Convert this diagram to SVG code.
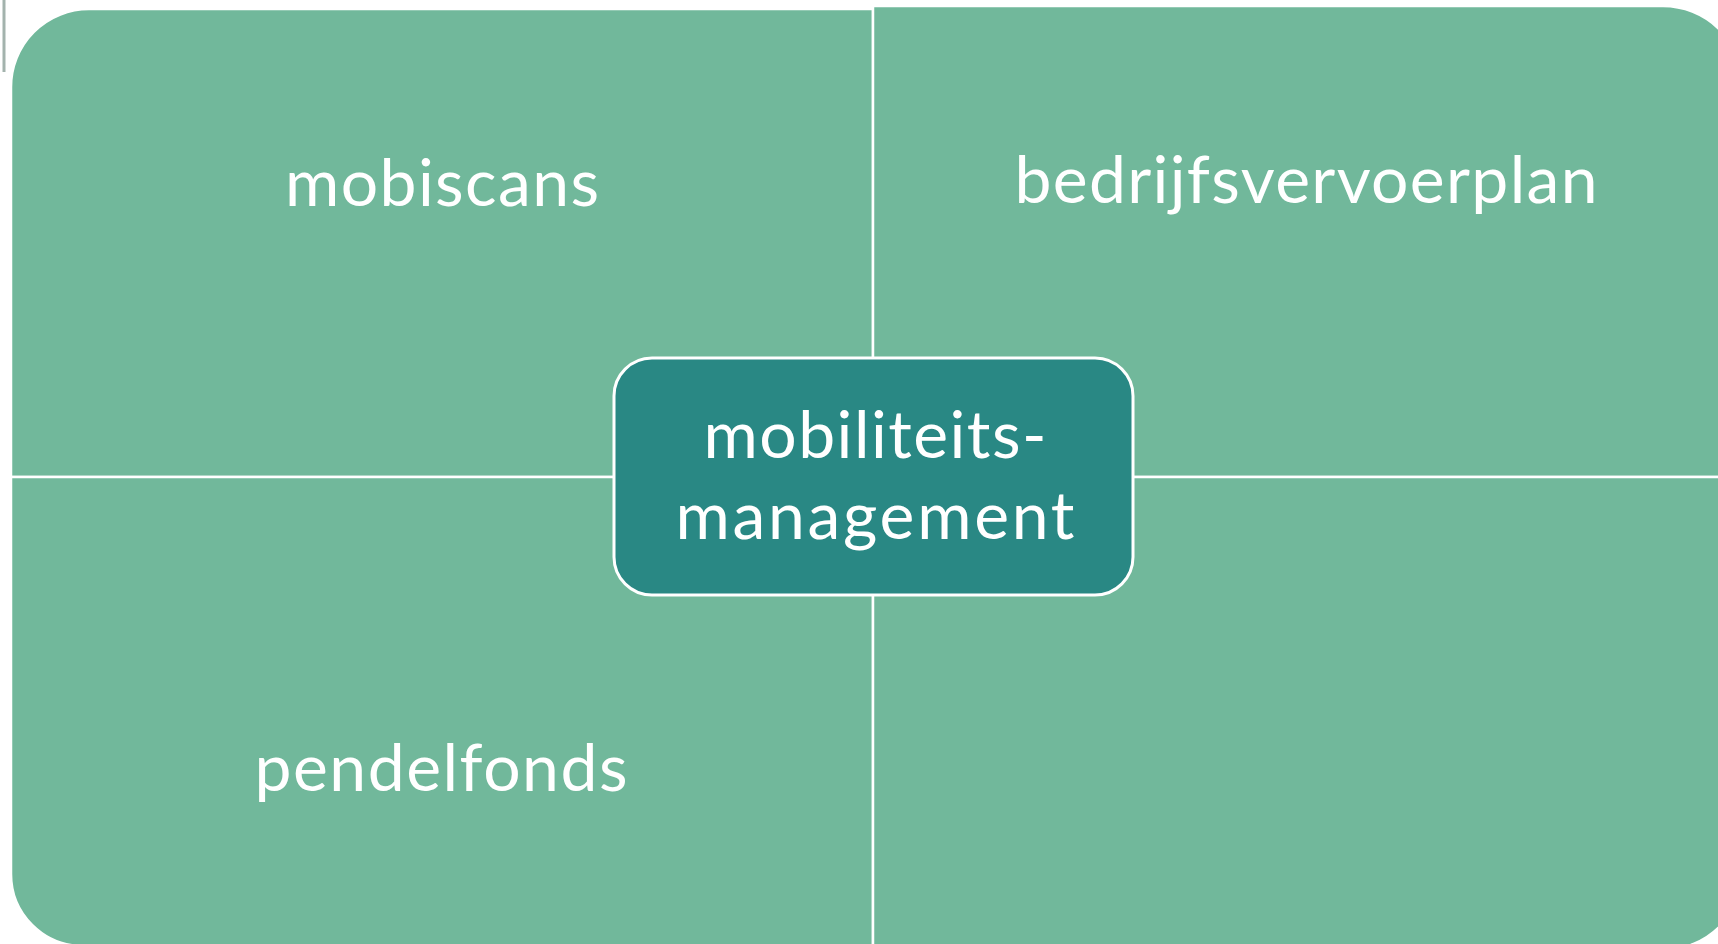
<svg xmlns="http://www.w3.org/2000/svg" width="1718" height="944" viewBox="0 0 1718 944">
<style>
.quad{fill:#71B89B;stroke:#FFFFFF;stroke-width:2.5}
.lbl{font-family:Lato,"Open Sans","Liberation Sans",sans-serif;font-size:66px;fill:#FFFFFF;text-anchor:middle}
.center{fill:#298884;stroke:#FFFFFF;stroke-width:3}
</style>
<rect width="1718" height="944" fill="#FFFFFF"/>
<line x1="4" y1="0" x2="4" y2="72" stroke="#A3B3AD" stroke-width="3"/>
<g id="q-mobiscans">
<path class="quad" d="M11,477 V87 A78,78 0 0 1 89,9 H873 V477 Z"/>
<text class="lbl" x="442" y="206" textLength="314" lengthAdjust="spacing">mobiscans</text>
</g>
<g id="q-bedrijfsvervoerplan">
<path class="quad" d="M873,477 V6 H1663 A80,80 0 0 1 1743,86 V477 Z"/>
<text class="lbl" x="1306" y="203" textLength="583" lengthAdjust="spacing">bedrijfsvervoerplan</text>
</g>
<g id="q-pendelfonds">
<path class="quad" d="M11,477 V874 A72,72 0 0 0 83,946 H873 V477 Z"/>
<text class="lbl" x="441" y="791" textLength="373" lengthAdjust="spacing">pendelfonds</text>
</g>
<g id="q-empty">
<path class="quad" d="M873,477 V950 H1663 A80,80 0 0 0 1743,865 V477 Z"/>
</g>
<g id="connectors"></g>
<g id="n-center">
<rect class="center" x="614" y="358" width="519" height="237" rx="38" ry="38"/>
<text class="lbl" x="875" y="458" textLength="343" lengthAdjust="spacing">mobiliteits-</text>
<text class="lbl" x="875" y="539" textLength="399" lengthAdjust="spacing">management</text>
</g>
</svg>
